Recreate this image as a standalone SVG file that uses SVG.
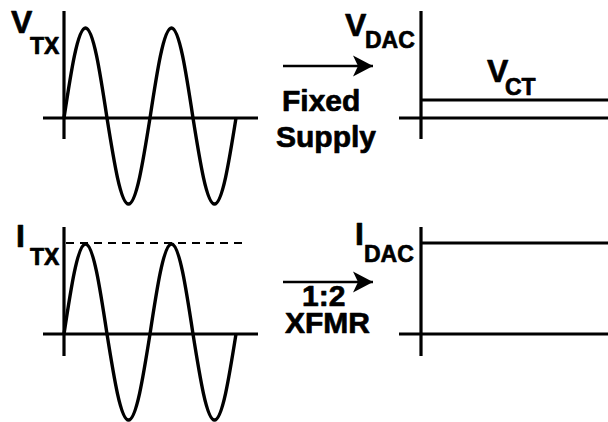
<svg xmlns="http://www.w3.org/2000/svg" width="608" height="422" viewBox="0 0 608 422">
<style>
.ax{stroke:#000;stroke-width:3.2;fill:none}
.wave{stroke:#000;stroke-width:3.4;fill:none}
.dash{stroke:#000;stroke-width:2.2;stroke-dasharray:8 6;fill:none}
.big,.sub,.lbl{font-family:"Liberation Sans",Arial,sans-serif;font-weight:bold;fill:#000;stroke:#000;stroke-width:0.7;stroke-linejoin:round}
.big{font-size:32px}
.sub{font-size:23px}
.lbl{font-size:30px}
</style>
<defs>
<marker id="ah" markerWidth="22" markerHeight="22" viewBox="0 0 22 22" refX="20" refY="11" orient="auto" markerUnits="userSpaceOnUse">
<path d="M20,11 L0,0.5 L5,11 L0,21.5 Z" fill="#000"/>
</marker>
</defs>
<g id="vtx-plot">
<line class="ax" x1="64" y1="11" x2="64" y2="139"/>
<line class="ax" x1="43" y1="118" x2="258" y2="118"/>
<path class="wave" d="M64,118 C71.01,71.9 77.72,28 85.5,28 C93.28,28 99.99,71.9 107,118 C114.01,162.06 120.72,204 128.5,204 C136.28,204 142.99,162.06 150,118 C157.01,71.9 163.72,28 171.5,28 C179.28,28 185.99,71.9 193,118 C200.01,162.06 206.72,204 214.5,204 C222.28,204 228.99,162.06 236,118"/>
<text class="big" x="11" y="33">V</text><text class="sub" x="30" y="54">TX</text>
</g>
<g id="vdac-plot">
<line class="ax" x1="421" y1="11" x2="421" y2="139"/>
<line class="ax" x1="399" y1="118" x2="608" y2="118"/>
<line class="ax" x1="421" y1="100" x2="608" y2="100"/>
<text class="big" x="345" y="36">V</text><text class="sub" x="365" y="48">DAC</text>
<text class="big" x="487" y="82">V</text><text class="sub" x="505" y="95">CT</text>
</g>
<g id="itx-plot">
<line class="ax" x1="64" y1="227" x2="64" y2="356"/>
<line class="ax" x1="43" y1="334" x2="258" y2="334"/>
<line class="dash" x1="66" y1="243" x2="246" y2="243"/>
<path class="wave" d="M64,334 C71.01,287.9 77.72,244 85.5,244 C93.28,244 99.99,287.9 107,334 C114.01,378.06 120.72,420 128.5,420 C136.28,420 142.99,378.06 150,334 C157.01,287.9 163.72,244 171.5,244 C179.28,244 185.99,287.9 193,334 C200.01,378.06 206.72,420 214.5,420 C222.28,420 228.99,378.06 236,334"/>
<text class="big" x="16" y="247">I</text><text class="sub" x="30" y="265">TX</text>
</g>
<g id="idac-plot">
<line class="ax" x1="421" y1="227" x2="421" y2="356"/>
<line class="ax" x1="421" y1="243" x2="608" y2="243"/>
<line class="ax" x1="399" y1="334" x2="608" y2="334"/>
<text class="big" x="355" y="245">I</text><text class="sub" x="364" y="262">DAC</text>
</g>
<g id="connectors">
<line x1="283" y1="66" x2="373" y2="66" stroke="#000" stroke-width="2.6" marker-end="url(#ah)"/>
<line x1="283" y1="282" x2="373" y2="282" stroke="#000" stroke-width="2.6" marker-end="url(#ah)"/>
</g>
<g id="labels">
<text class="lbl" x="282" y="111">Fixed</text>
<text class="lbl" x="276" y="147">Supply</text>
<text class="lbl" x="302" y="306" font-size="29">1:2</text>
<text class="lbl" x="285" y="333" font-size="29">XFMR</text>
</g>
</svg>
